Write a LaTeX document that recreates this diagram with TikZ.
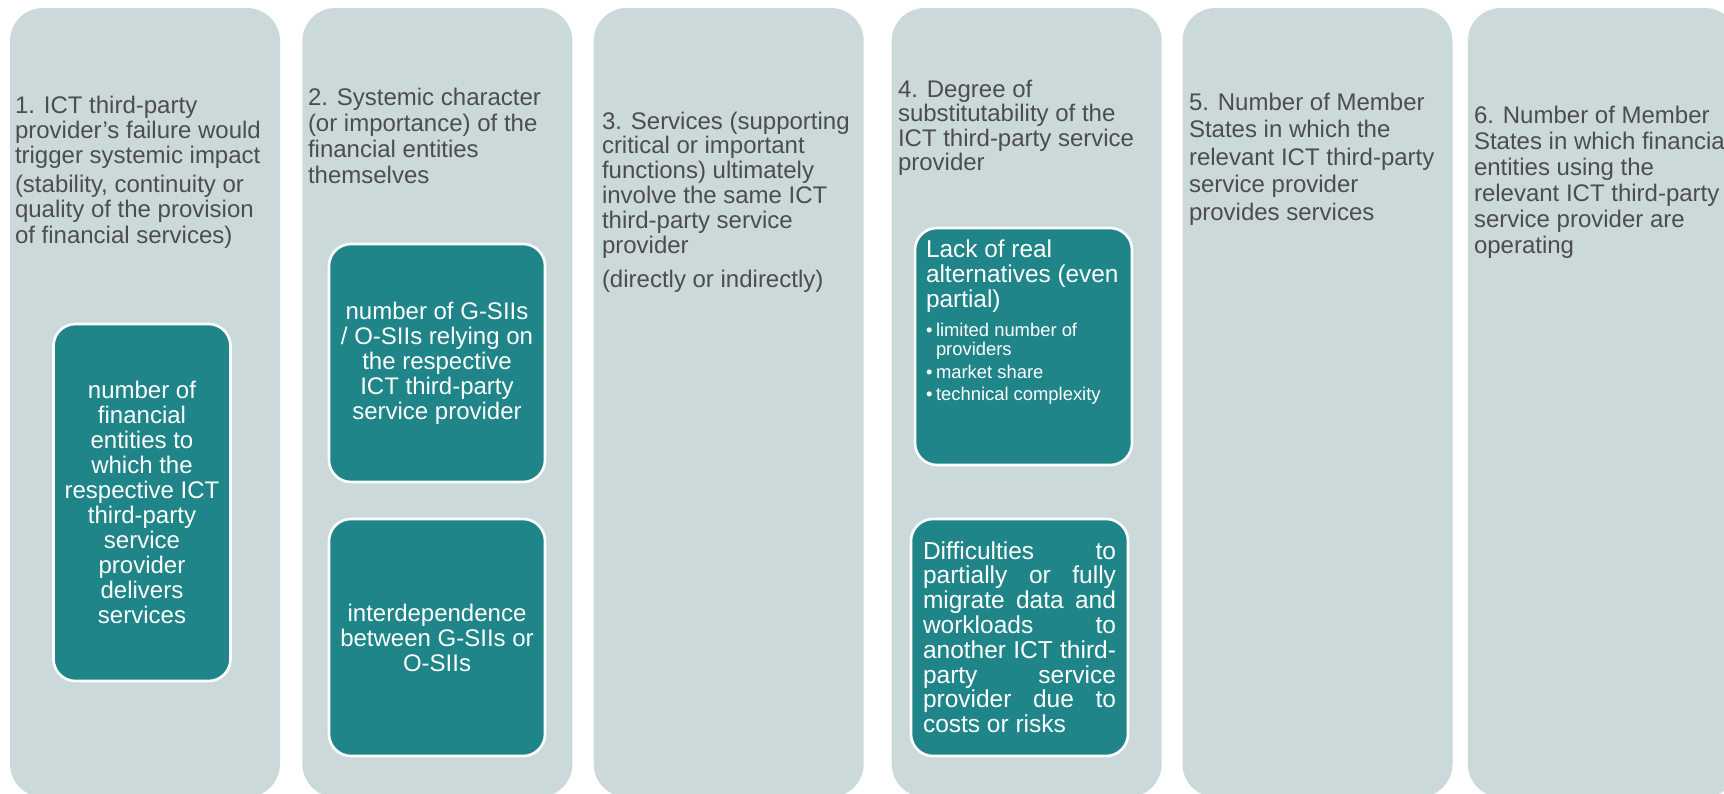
\documentclass[tikz,border=0pt]{standalone}
\usepackage{fontspec}
\setmainfont{Liberation Sans}
\definecolor{colbg}{HTML}{CBD9DA}
\definecolor{boxteal}{HTML}{1F8589}
\definecolor{headgrey}{HTML}{4D4D4D}
\newcommand{\topstrut}{\rule{0pt}{10pt}}
\newcommand{\bul}{\makebox[5pt][l]{•}}
\newcommand{\jline}[1]{\makebox[96.5pt][s]{#1}}

\begin{document}
\begin{tikzpicture}[x=0.5pt,y=-0.5pt,
  column/.style={fill=colbg, draw=none, rounded corners=16.5pt,
    minimum width=135pt, minimum height=394.5pt, inner sep=0pt},
  tealbox/.style={fill=boxteal, draw=white, line width=1.3pt,
    rounded corners=11pt, inner sep=0pt, text=white, align=center,
    font=\fontsize{12}{12.5}\selectfont},
  head/.style={anchor=north west, inner sep=0pt, outer sep=0pt,
    align=left, text=headgrey},
  boxtext/.style={anchor=north west, inner sep=0pt, outer sep=0pt,
    align=left, text=white},
]
\useasboundingbox (0,0) rectangle (1724,793);
\clip (0,0) rectangle (1724,793);

% six criteria columns
\node[column] (col1) at (145,402.5) {};
\node[column] (col2) at (437.4,402.5) {};
\node[column] (col3) at (728.7,402.5) {};
\node[column] (col4) at (1026.7,402.5) {};
\node[column] (col5) at (1317.5,402.5) {};
\node[column] (col6) at (1602.8,402.5) {};

% column headings
\node[head, font=\fontsize{12}{12.6}\selectfont] (h1) at (15,93)
  {\topstrut 1. ICT third-party\\provider’s failure would\\trigger systemic impact\\[2pt]%
   (stability, continuity or\\quality of the provision\\of financial services)};
\node[head, font=\fontsize{12}{13}\selectfont] (h2) at (308,85)
  {\topstrut 2. Systemic character\\(or importance) of the\\financial entities\\themselves};
\node[head, font=\fontsize{12}{12.4}\selectfont] (h3) at (602,109)
  {\topstrut 3. Services (supporting\\critical or important\\functions) ultimately\\involve the same ICT\\third-party service\\provider\\[5pt]%
   (directly or indirectly)};
\node[head, font=\fontsize{12}{12.3}\selectfont] (h4) at (898,77)
  {\topstrut 4. Degree of\\substitutability of the\\ICT third-party service\\provider};
\node[head, font=\fontsize{12}{13.75}\selectfont] (h5) at (1189,90)
  {\topstrut 5. Number of Member\\States in which the\\relevant ICT third-party\\service provider\\provides services};
\node[head, font=\fontsize{12}{13}\selectfont] (h6) at (1474,103)
  {\topstrut 6. Number of Member\\States in which financial\\entities using the\\relevant ICT third-party\\service provider are\\operating};

% sub-criteria boxes
\node[tealbox, minimum width=88.5pt, minimum height=178.5pt] (b1) at (142,502.5)
  {number of\\financial\\entities to\\which the\\respective ICT\\third-party\\service\\provider\\delivers\\services};
\node[tealbox, minimum width=108pt, minimum height=119pt] (b2a) at (437,363)
  {number of G-SIIs\\/ O-SIIs relying on\\the respective\\ICT third-party\\service provider};
\node[tealbox, minimum width=108pt, minimum height=118.5pt] (b2b) at (437,637.5)
  {interdependence\\between G-SIIs or\\O-SIIs};
\node[tealbox, minimum width=108.5pt, minimum height=118.5pt] (b4a) at (1023.5,346.5) {};
\node[tealbox, minimum width=108.5pt, minimum height=118.5pt] (b4b) at (1019.5,637.5) {};

% text of the substitutability boxes
\node[boxtext, font=\fontsize{12.2}{12.6}\selectfont] (t4a) at (926,237)
  {\topstrut Lack of real\\alternatives (even\\partial)\\[2pt]%
   {\fontsize{9.2}{9.25}\selectfont\bul limited number of}\\[-3.35pt]%
   {\fontsize{9.2}{9.25}\selectfont\hspace*{5pt}providers}\\[-1pt]%
   {\fontsize{9.2}{9.25}\selectfont\bul market share}\\[-1.6pt]%
   {\fontsize{9.2}{9.25}\selectfont\bul technical complexity}};
\node[boxtext, font=\fontsize{12.25}{12.4}\selectfont] (t4b) at (923,539)
  {\topstrut\jline{Difficulties to}\\\jline{partially or fully}\\\jline{migrate data and}\\%
   \jline{workloads to}\\\jline{another ICT third-}\\\jline{party service}\\%
   \jline{provider due to}\\costs or risks};
\end{tikzpicture}
\end{document}
